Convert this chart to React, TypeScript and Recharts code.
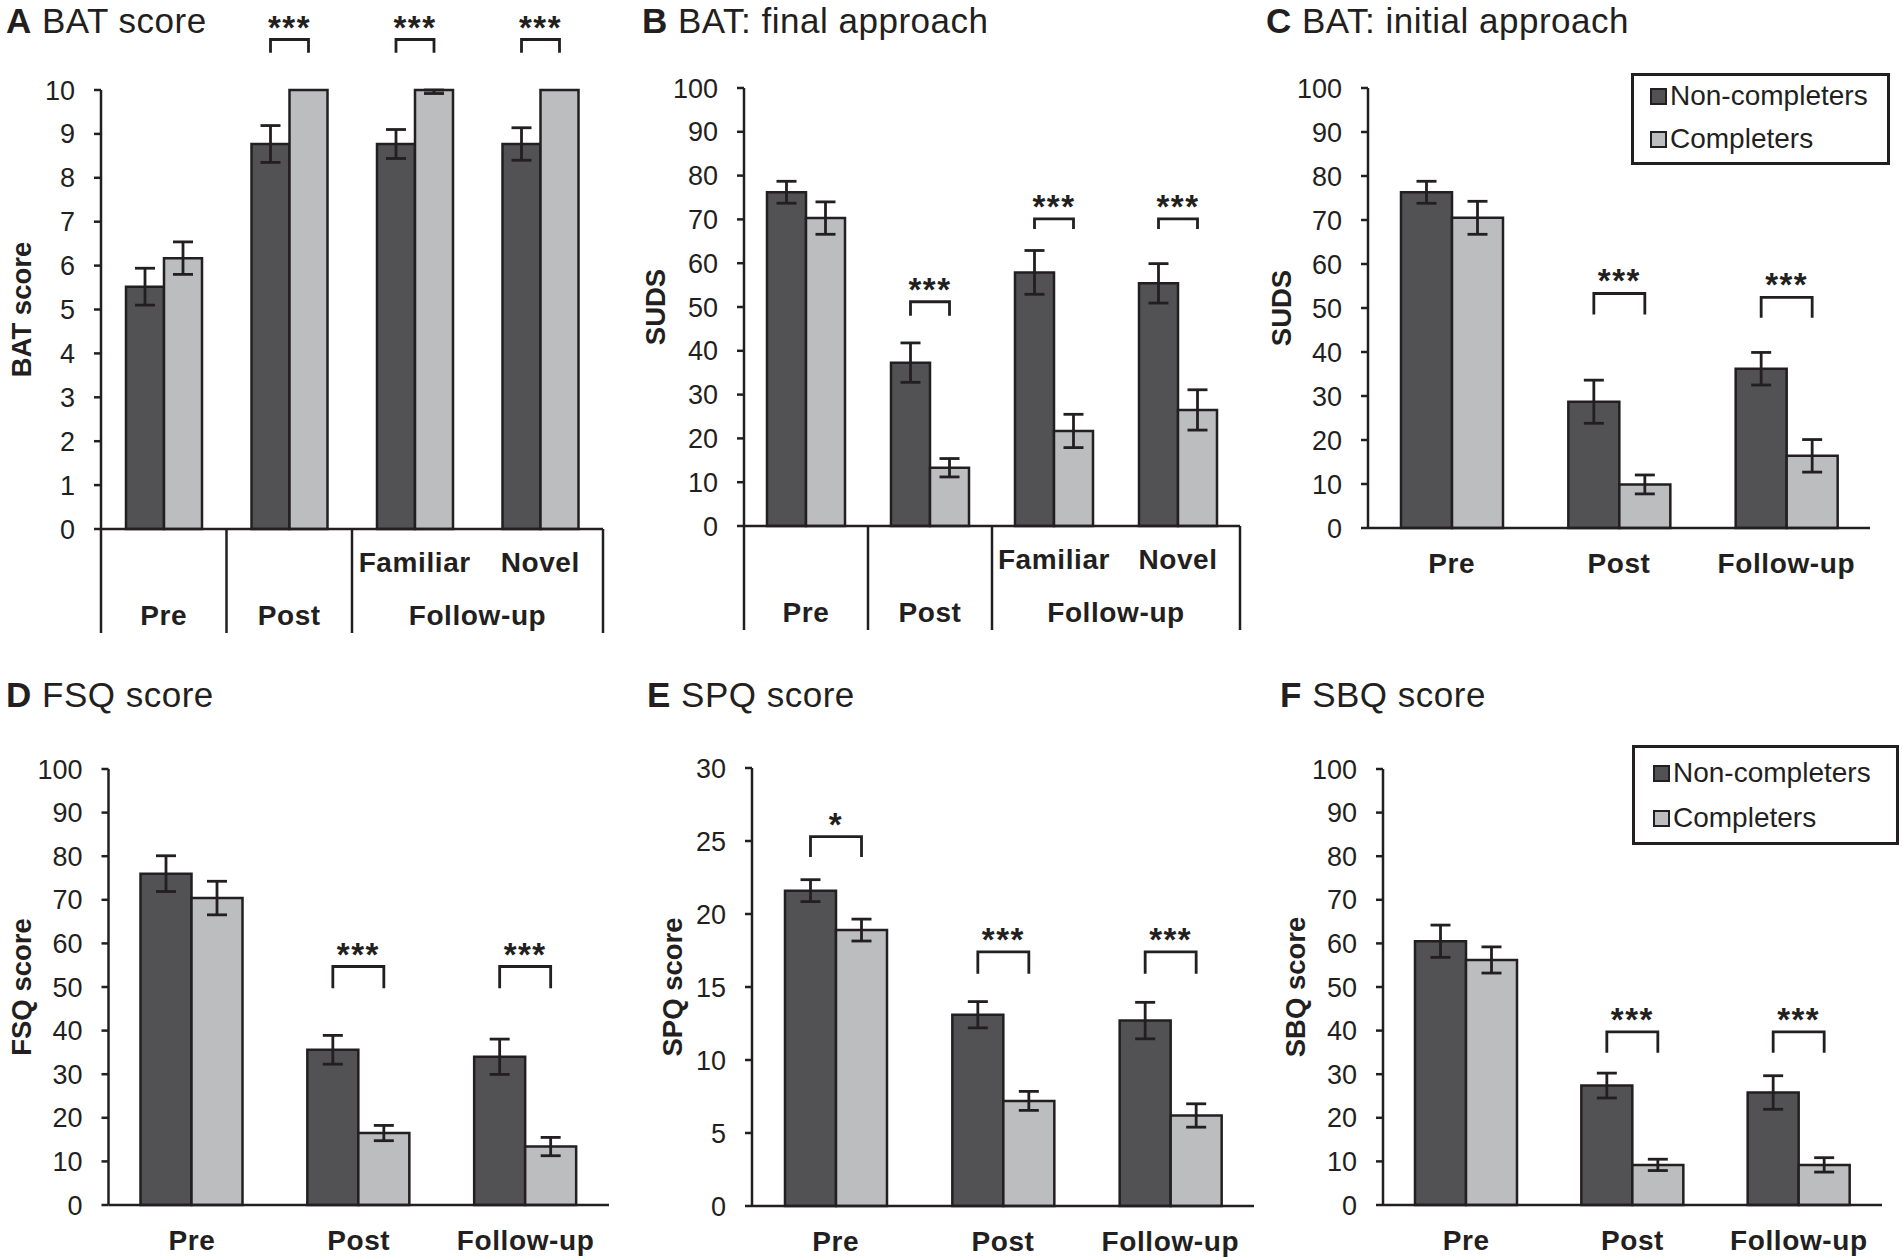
import React from 'react';
import { BarChart, Bar, XAxis, YAxis, ErrorBar } from 'recharts';

const FONT = '"Liberation Sans", Arial, Helvetica, sans-serif';
const INK = '#231f20';
const DARK_FILL = '#525254';
const LIGHT_FILL = '#bcbdbf';

const seriesNames = ['Non-completers', 'Completers'];
const seriesFills = [DARK_FILL, LIGHT_FILL];

// ---------- Panel A: BAT score ----------
const aCategories = ['Pre', 'Post', 'Familiar', 'Novel'];
const aSubLabels = ['', '', 'Familiar', 'Novel'];
const aGroups = [
  { label: 'Pre', from: 0, to: 0 },
  { label: 'Post', from: 1, to: 1 },
  { label: 'Follow-up', from: 2, to: 3 },
];
const aNon = [5.52, 8.77, 8.77, 8.77];
const aNonErr = [0.42, 0.42, 0.33, 0.37];
const aComp = [6.17, 10, 10, 10];
const aCompErr: any[] = [0.37, null, [0.08, 0], null];
const aSig = ['', '***', '***', '***'];
const aBracket: any[] = [null, [11.15, 10.85], [11.15, 10.85], [11.15, 10.85]];
const aTicks = [0, 1, 2, 3, 4, 5, 6, 7, 8, 9, 10];

// ---------- Panel B: BAT final approach ----------
const bCategories = ['Pre', 'Post', 'Familiar', 'Novel'];
const bSubLabels = ['', '', 'Familiar', 'Novel'];
const bGroups = aGroups;
const bNon = [76.2, 37.3, 57.9, 55.4];
const bNonErr = [2.5, 4.5, 5.0, 4.5];
const bComp = [70.3, 13.3, 21.7, 26.5];
const bCompErr = [3.7, 2.1, 3.8, 4.6];
const bSig = ['', '***', '***', '***'];
const bBracket: any[] = [null, [51.2, 48.0], [70.1, 67.8], [70.1, 67.8]];

// ---------- Panel C: BAT initial approach ----------
const timeCategories = ['Pre', 'Post', 'Follow-up'];
const cNon = [76.3, 28.7, 36.2];
const cNonErr = [2.5, 4.9, 3.7];
const cComp = [70.5, 9.9, 16.4];
const cCompErr = [3.75, 2.15, 3.7];
const cSig = ['', '***', '***'];
const cBracket: any[] = [null, [53.3, 48.5], [52.4, 47.8]];

// ---------- Panel D: FSQ ----------
const dNon = [76.0, 35.6, 34.0];
const dNonErr = [4.1, 3.3, 4.05];
const dComp = [70.4, 16.5, 13.4];
const dCompErr = [3.85, 1.75, 2.1];
const dSig = ['', '***', '***'];
const dBracket: any[] = [null, [54.7, 49.7], [54.7, 49.7]];

// ---------- Panel E: SPQ ----------
const eNon = [21.6, 13.1, 12.7];
const eNonErr = [0.75, 0.9, 1.25];
const eComp = [18.9, 7.2, 6.2];
const eCompErr = [0.75, 0.65, 0.8];
const eSig = ['*', '***', '***'];
const eBracket: any[] = [[25.3, 23.9], [17.4, 15.9], [17.4, 15.9]];
const eTicks = [0, 5, 10, 15, 20, 25, 30];

// ---------- Panel F: SBQ ----------
const fNon = [60.5, 27.4, 25.8];
const fNonErr = [3.7, 2.85, 3.85];
const fComp = [56.2, 9.2, 9.2];
const fCompErr = [3.0, 1.3, 1.65];
const fSig = ['', '***', '***'];
const fBracket: any[] = [null, [39.7, 34.9], [39.7, 34.9]];

const pctTicks = [0, 10, 20, 30, 40, 50, 60, 70, 80, 90, 100];

const Y_AXIS_W = 90;

type Box = { left: number; top: number; width: number; height: number };
type Plot = { left: number; right: number; top: number; bottom: number };

type PanelProps = {
  box: Box;
  plot: Plot;
  categories: string[];
  non: number[];
  nonErr: any[];
  comp: number[];
  compErr: any[];
  yMax: number;
  yTicks: number[];
  yLabel: string;
  yLabelOffset: number;
  barSize: number;
  sig: string[];
  bracket: any[];
  subLabels?: string[];
  groups?: { label: string; from: number; to: number }[];
};

function Panel(p: PanelProps) {
  const grouped = !!p.groups;
  const xH = grouped ? 110 : 50;
  const margin = {
    left: p.plot.left - Y_AXIS_W - p.box.left,
    right: p.box.left + p.box.width - p.plot.right,
    top: p.plot.top - p.box.top,
    bottom: p.box.top + p.box.height - p.plot.bottom - xH,
  };
  const band = (p.plot.right - p.plot.left) / p.categories.length;
  const data = p.categories.map((c, i) => ({
    name: c,
    non: p.non[i],
    comp: p.comp[i],
    nonErr: p.nonErr[i],
    compErr: p.compErr[i],
  }));

  const catText = (x: number, y: number, s: string, key: string) => (
    <text
      key={key}
      x={x}
      y={y}
      textAnchor="middle"
      fontFamily={FONT}
      fontWeight="bold"
      fontSize={28}
      letterSpacing={0.6}
      fill={INK}
    >
      {s}
    </text>
  );

  const simpleTick = (props: any) => {
    const { x, y, payload } = props;
    return <g>{catText(x, y + 45, payload.value, 't')}</g>;
  };

  const groupedTick = (props: any) => {
    const { x, y, payload } = props;
    const i = props.index != null ? props.index : payload.index;
    const els: any[] = [];
    if (p.subLabels && p.subLabels[i]) els.push(catText(x, y + 43, p.subLabels[i], 's'));
    (p.groups || []).forEach((g, gi) => {
      if (g.from === i) {
        const cx = x + ((g.to - g.from) * band) / 2;
        els.push(catText(cx, y + 96, g.label, 'g' + gi));
        els.push(
          <line key={'l' + gi} x1={x - band / 2} x2={x - band / 2} y1={y} y2={y + 104} stroke={INK} strokeWidth={2.5} />
        );
      }
    });
    if (i === p.categories.length - 1) {
      els.push(<line key="r" x1={x + band / 2} x2={x + band / 2} y1={y} y2={y + 104} stroke={INK} strokeWidth={2.5} />);
    }
    return <g>{els}</g>;
  };

  const bracketLabel = (props: any) => {
    const i = props.index;
    if (i == null || !p.sig[i] || !p.bracket[i]) return null;
    const vb = props.viewBox && props.viewBox.width != null ? props.viewBox : props;
    const { x, y, width, height } = vb;
    const base = y + height;
    const k = height / p.non[i];
    const yTop = base - p.bracket[i][0] * k;
    const yBot = base - p.bracket[i][1] * k;
    const x1 = x + width / 2;
    const x2 = x + width * 1.5;
    return (
      <g>
        <path d={`M${x1},${yBot} V${yTop} H${x2} V${yBot}`} fill="none" stroke={INK} strokeWidth={2.8} />
        <text
          x={(x1 + x2) / 2}
          y={yTop - 1}
          textAnchor="middle"
          fontFamily={FONT}
          fontWeight="bold"
          fontSize={33}
          letterSpacing={1.5}
          fill={INK}
        >
          {p.sig[i]}
        </text>
      </g>
    );
  };

  const yLabelRender = (props: any) => {
    const vb = props.viewBox || { x: 0, y: 0, width: 0, height: 0 };
    const cx = vb.x + p.yLabelOffset;
    const cy = vb.y + vb.height / 2;
    return (
      <text
        x={cx}
        y={cy}
        transform={`rotate(-90 ${cx} ${cy})`}
        textAnchor="middle"
        dominantBaseline="central"
        fontFamily={FONT}
        fontWeight="bold"
        fontSize={27.5}
        fill={INK}
      >
        {p.yLabel}
      </text>
    );
  };

  return (
    <div style={{ position: 'absolute', left: p.box.left, top: p.box.top, width: p.box.width, height: p.box.height }}>
      <BarChart width={p.box.width} height={p.box.height} data={data} margin={margin} barGap={0}>
        <XAxis
          dataKey="name"
          interval={0}
          tickLine={false}
          tickSize={0}
          tickMargin={0}
          height={xH}
          axisLine={{ stroke: INK, strokeWidth: 2.5 }}
          tick={grouped ? groupedTick : simpleTick}
        />
        <YAxis
          type="number"
          domain={[0, p.yMax]}
          ticks={p.yTicks}
          interval={0}
          width={Y_AXIS_W}
          tickSize={7}
          tickMargin={19}
          axisLine={{ stroke: INK, strokeWidth: 2.5 }}
          tickLine={{ stroke: INK, strokeWidth: 2.5 }}
          tick={{ fill: INK, fontSize: 27, fontFamily: FONT }}
          label={yLabelRender}
        />
        <Bar
          dataKey="non"
          name={seriesNames[0]}
          fill={seriesFills[0]}
          stroke={INK}
          strokeWidth={2.5}
          barSize={p.barSize}
          isAnimationActive={false}
          label={bracketLabel}
        >
          <ErrorBar dataKey="nonErr" width={10} stroke={INK} strokeWidth={2.8} direction="y" />
        </Bar>
        <Bar
          dataKey="comp"
          name={seriesNames[1]}
          fill={seriesFills[1]}
          stroke={INK}
          strokeWidth={2.5}
          barSize={p.barSize}
          isAnimationActive={false}
        >
          <ErrorBar dataKey="compErr" width={10} stroke={INK} strokeWidth={2.8} direction="y" />
        </Bar>
      </BarChart>
    </div>
  );
}

function LegendBox(props: { left: number; top: number; width: number; height: number; rows: number[]; sq: number; tx: number }) {
  return (
    <div
      style={{
        position: 'absolute',
        left: props.left,
        top: props.top,
        width: props.width,
        height: props.height,
        border: `3px solid ${INK}`,
        boxSizing: 'border-box',
        background: '#fff',
      }}
    >
      {seriesNames.map((n, i) => (
        <div key={n}>
          <div
            style={{
              position: 'absolute',
              left: props.sq - 3,
              top: props.rows[i] - 3 - 8.5,
              width: 17,
              height: 17,
              boxSizing: 'border-box',
              border: `2.5px solid ${INK}`,
              background: seriesFills[i],
            }}
          />
          <div
            style={{
              position: 'absolute',
              left: props.tx - 3,
              top: props.rows[i] - 3 - 16,
              height: 32,
              lineHeight: '32px',
              fontFamily: FONT,
              fontSize: 28,
              color: INK,
              whiteSpace: 'nowrap',
            }}
          >
            {n}
          </div>
        </div>
      ))}
    </div>
  );
}

const titles = [
  { letter: 'A', text: 'BAT score', x: 6, y: 33 },
  { letter: 'B', text: 'BAT: final approach', x: 642, y: 33 },
  { letter: 'C', text: 'BAT: initial approach', x: 1266, y: 33 },
  { letter: 'D', text: 'FSQ score', x: 6, y: 707 },
  { letter: 'E', text: 'SPQ score', x: 647, y: 707 },
  { letter: 'F', text: 'SBQ score', x: 1280, y: 707 },
];

export default function App() {
  return (
    <div style={{ position: 'absolute', left: 0, top: 0, width: 1902, height: 1257, background: '#fff', overflow: 'hidden' }}>
      <svg width={1902} height={1257} style={{ position: 'absolute', left: 0, top: 0 }}>
        {titles.map((t) => (
          <text key={t.letter} x={t.x} y={t.y} fontFamily={FONT} fontSize={35} fill={INK} letterSpacing={0.5}>
            <tspan fontWeight="bold">{t.letter}</tspan>
            <tspan> {t.text}</tspan>
          </text>
        ))}
      </svg>

      <Panel
        box={{ left: 0, top: 0, width: 634, height: 650 }}
        plot={{ left: 101, right: 603, top: 90, bottom: 529 }}
        categories={aCategories}
        subLabels={aSubLabels}
        groups={aGroups}
        non={aNon}
        nonErr={aNonErr}
        comp={aComp}
        compErr={aCompErr}
        yMax={10}
        yTicks={aTicks}
        yLabel="BAT score"
        yLabelOffset={10}
        barSize={38}
        sig={aSig}
        bracket={aBracket}
      />
      <Panel
        box={{ left: 620, top: 0, width: 648, height: 650 }}
        plot={{ left: 744, right: 1240, top: 88, bottom: 526 }}
        categories={bCategories}
        subLabels={bSubLabels}
        groups={bGroups}
        non={bNon}
        nonErr={bNonErr}
        comp={bComp}
        compErr={bCompErr}
        yMax={100}
        yTicks={pctTicks}
        yLabel="SUDS"
        yLabelOffset={1}
        barSize={39}
        sig={bSig}
        bracket={bBracket}
      />
      <Panel
        box={{ left: 1250, top: 0, width: 652, height: 650 }}
        plot={{ left: 1368, right: 1870, top: 88, bottom: 528 }}
        categories={timeCategories}
        non={cNon}
        nonErr={cNonErr}
        comp={cComp}
        compErr={cCompErr}
        yMax={100}
        yTicks={pctTicks}
        yLabel="SUDS"
        yLabelOffset={3}
        barSize={51}
        sig={cSig}
        bracket={cBracket}
      />
      <Panel
        box={{ left: 0, top: 650, width: 634, height: 607 }}
        plot={{ left: 108.5, right: 609, top: 769, bottom: 1205 }}
        categories={timeCategories}
        non={dNon}
        nonErr={dNonErr}
        comp={dComp}
        compErr={dCompErr}
        yMax={100}
        yTicks={pctTicks}
        yLabel="FSQ score"
        yLabelOffset={2.5}
        barSize={51}
        sig={dSig}
        bracket={dBracket}
      />
      <Panel
        box={{ left: 620, top: 650, width: 648, height: 607 }}
        plot={{ left: 752, right: 1254, top: 768, bottom: 1206 }}
        categories={timeCategories}
        non={eNon}
        nonErr={eNonErr}
        comp={eComp}
        compErr={eCompErr}
        yMax={30}
        yTicks={eTicks}
        yLabel="SPQ score"
        yLabelOffset={10}
        barSize={51}
        sig={eSig}
        bracket={eBracket}
      />
      <Panel
        box={{ left: 1250, top: 650, width: 652, height: 607 }}
        plot={{ left: 1383, right: 1882, top: 769, bottom: 1205 }}
        categories={timeCategories}
        non={fNon}
        nonErr={fNonErr}
        comp={fComp}
        compErr={fCompErr}
        yMax={100}
        yTicks={pctTicks}
        yLabel="SBQ score"
        yLabelOffset={2}
        barSize={51}
        sig={fSig}
        bracket={fBracket}
      />

      <LegendBox left={1631} top={73} width={259} height={92} rows={[23, 66]} sq={19} tx={39} />
      <LegendBox left={1632} top={745} width={267} height={100} rows={[28, 73]} sq={21} tx={41} />
    </div>
  );
}
